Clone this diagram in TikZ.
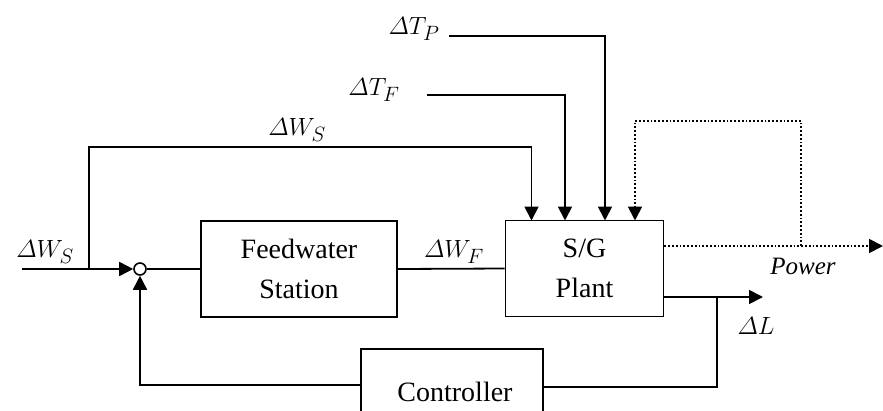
\documentclass[tikz,border=0pt]{standalone}
\usepackage[no-math]{fontspec}
\setmainfont{Liberation Serif}
\usepackage{amsmath}
\usetikzlibrary{arrows.meta,calc}
\begin{document}
\begin{tikzpicture}[x=1pt,y=-1pt,
  line width=1.8pt,
  blk/.style={draw,line width=1.8pt,align=center,inner sep=0pt,
    font=\fontsize{28}{40}\selectfont},
  arr/.style={-{Triangle[length=14pt,width=14pt]}},
  lbl/.style={inner sep=0pt,font=\fontsize{31}{34}\selectfont},
  dot/.style={dotted,line width=1.8pt}]
\useasboundingbox (0,0) rectangle (883,410);
\clip (0,0) rectangle (883,410);
% blocks
\node[blk,minimum width=196pt,minimum height=96pt] (fw) at (299,269) {Feedwater\\Station};
\node[blk,minimum width=158pt,minimum height=96pt] (sg) at (584.5,268.5) {S/G\\Plant};
\node[blk,minimum width=182pt,minimum height=86pt,text depth=0pt] (ctrl) at (452,392) {};
\node[inner sep=0pt,font=\fontsize{28}{30}\selectfont] (ctrltxt) at (455,392) {Controller};
\node[draw,circle,minimum size=12pt,inner sep=0pt,line width=1.6pt] (sum) at (140,269) {};
% coordinates
\coordinate (in) at (22,269);
\coordinate (br) at (89,269);
\coordinate (ws) at (89,147);
\coordinate (tf) at (427,95);
\coordinate (tp) at (449,36);
\coordinate (a1) at (531.5,220.5);
\coordinate (a2) at (565,220.5);
\coordinate (a3) at (605,220.5);
\coordinate (a4) at (635,220.5);
\coordinate (pwr) at (883,246);
\coordinate (pbr) at (801,246);
\coordinate (ptop) at (801,121);
\coordinate (dl) at (763,297);
\coordinate (dlb) at (717,297);
\coordinate (fbk) at (717,387);
% connectors
\draw[arr] (in) -- (sum.west);
\draw (sum.east) -- (fw.west);
\draw (fw.east) -- (sg.west);
\draw[arr] (br) -- (ws) -| (a1);
\draw[arr] (tf) -| (a2);
\draw[arr] (tp) -| (a3);
\draw[dot,-{Triangle[length=14pt,width=14pt]}] (sg.east |- pwr) -- (pwr);
\draw[dot,-{Triangle[length=14pt,width=14pt]}] (pbr) -- (ptop) -| (a4);
\draw[arr] (sg.east |- dl) -- (dl);
\draw (dlb) -- (fbk) -- (ctrl.east |- fbk);
\draw[arr] (ctrl.west |- 0,385) -| (sum.south);
% labels
\node[lbl] (l1) at (45,252) {$\varDelta W_S$};
\node[lbl] (l2) at (297,130) {$\varDelta W_S$};
\node[lbl] (l3) at (374,90) {$\varDelta T_F$};
\node[lbl] (l4) at (414,29) {$\varDelta T_P$};
\node[lbl] (l5) at (454,252) {$\varDelta W_F$};
\node[lbl] (l6) at (756,326) {$\varDelta L$};
\node[inner sep=0pt,font=\fontsize{25}{28}\selectfont\itshape] (l7) at (803,266) {Power};
\end{tikzpicture}
\end{document}
